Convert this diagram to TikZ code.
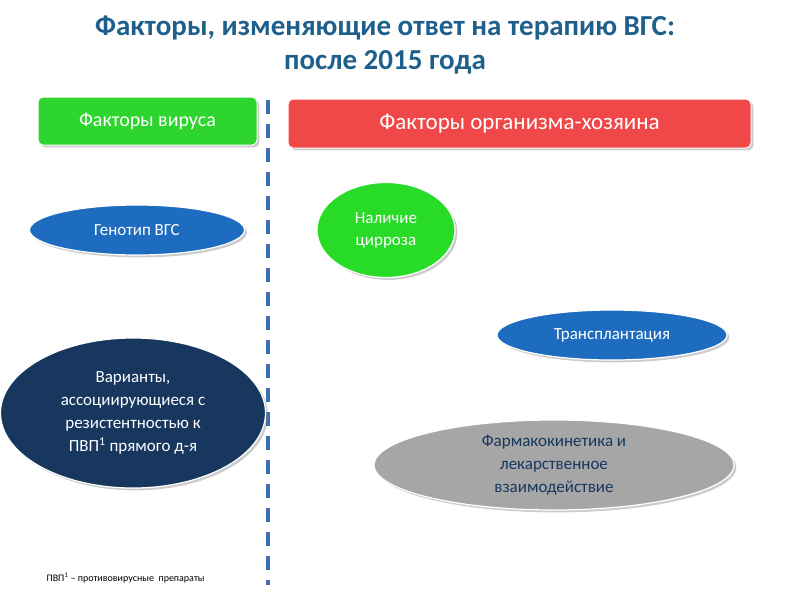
\documentclass[tikz,border=0pt]{standalone}
\usepackage{fontspec}
\setmainfont{Carlito}
\usetikzlibrary{shapes.geometric,shadows}
\definecolor{ttl}{HTML}{1F5F8B}
\definecolor{gbox}{HTML}{2ED52E}
\definecolor{rbox}{HTML}{F04848}
\definecolor{bell}{HTML}{1E6CC0}
\definecolor{nell}{HTML}{17375E}
\definecolor{gell}{HTML}{A6A6A6}
\definecolor{dline}{HTML}{3A6EB0}
\tikzset{
 hdr/.style={draw=white,line width=1pt,rounded corners=5pt,text=white,drop shadow={opacity=0.4},inner sep=0pt},
 ov/.style={ellipse,draw=white,line width=1.2pt,text=white,align=center,inner sep=0pt,drop shadow={opacity=0.4}},
}
\begin{document}
\begin{tikzpicture}[x=1pt,y=-1pt]
\useasboundingbox (0,0) rectangle (800,600);
\node[text=ttl,font=\fontsize{29}{34}\selectfont\bfseries,align=center] (t) at (385,45) {Факторы, изменяющие ответ на терапию ВГС:\\после 2015 года};
\node[hdr,fill=gbox,minimum width=219pt,minimum height=48pt,font=\fontsize{20}{24}\selectfont] (v) at (147.5,121) {Факторы вируса};
\node[hdr,fill=rbox,minimum width=463pt,minimum height=49pt,font=\fontsize{23}{27}\selectfont] (h) at (519.5,123.5) {Факторы организма-хозяина};
\coordinate (d1) at (268,100); \coordinate (d2) at (268,585);
\draw[dline,line width=4.5pt,dash pattern=on 14pt off 10pt] (d1) -- (d2);
\node[ov,fill=bell,minimum width=215pt,minimum height=50pt,font=\fontsize{17}{20}\selectfont] (g) at (137,230) {Генотип ВГС};
\node[ov,fill=gbox!85!green,minimum width=138pt,minimum height=95pt,font=\fontsize{17}{22}\selectfont] (c) at (386,230) {Наличие\\цирроза};
\node[ov,fill=bell,minimum width=230pt,minimum height=50pt,font=\fontsize{17}{20}\selectfont] (tr) at (612,335) {Трансплантация};
\node[ov,fill=nell,minimum width=265pt,minimum height=150pt,font=\fontsize{17}{23}\selectfont] (r) at (133,413) {Варианты,\\ассоциирующиеся с\\резистентностью к\\ПВП\textsuperscript{1} прямого д-я};
\node[ov,fill=gell,text=nell,minimum width=360pt,minimum height=90pt,font=\fontsize{17}{23}\selectfont] (f) at (554,465) {Фармакокинетика и\\лекарственное\\взаимодействие};
\node[anchor=west,font=\fontsize{10}{12}\selectfont] (fn) at (43,578) {ПВП\textsuperscript{1} – противовирусные\ \ препараты};
\end{tikzpicture}
\end{document}
